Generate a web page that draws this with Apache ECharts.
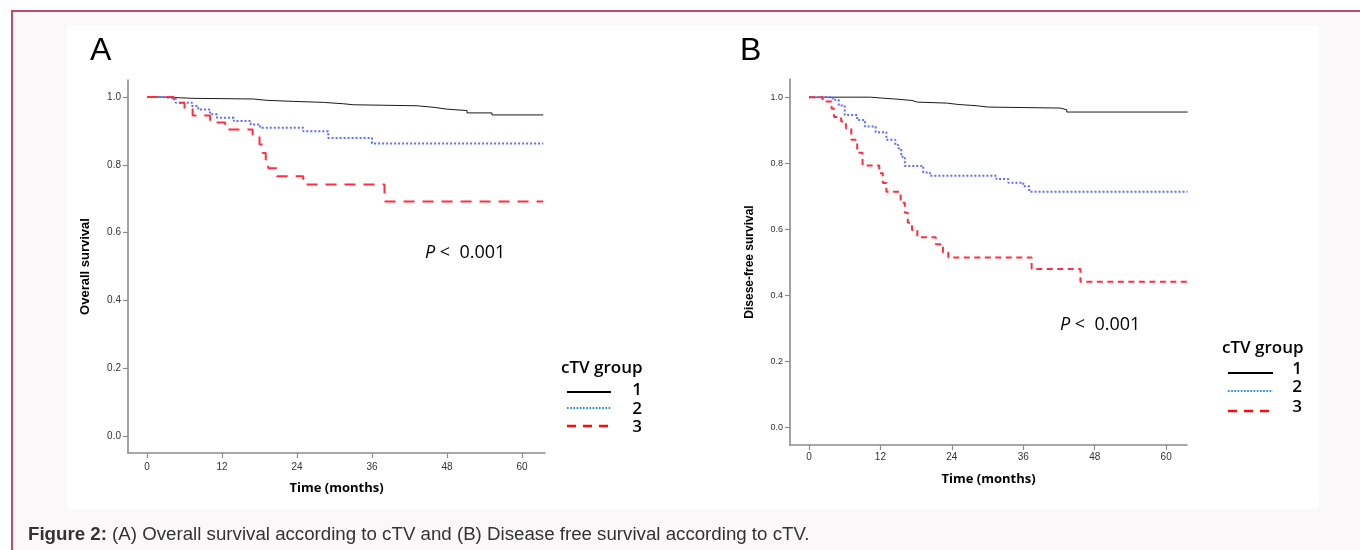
<!DOCTYPE html>
<html><head><meta charset="utf-8">
<script src="https://cdn.jsdelivr.net/npm/echarts@6/dist/echarts.min.js"></script>
<style>
html,body{margin:0;padding:0;background:#fff;width:1360px;height:550px;overflow:hidden}
#frame{position:absolute;left:11px;top:10px;width:1349px;height:540px;background:#faf8f9;border-top:2px solid #c24a6c;border-left:2px solid #c24a6c;box-sizing:border-box}
#panel{position:absolute;left:67px;top:26px;width:1252px;height:483px;background:#fff}
#chart{position:absolute;left:0;top:0;width:1360px;height:550px}
</style></head><body>
<div id="frame"></div><div id="panel"></div><div id="chart"></div>
<script>
// ---- tick labels ----
const xTicks = [0, 12, 24, 36, 48, 60];
const yTicks = [0, 0.2, 0.4, 0.6, 0.8, 1.0];
const groupNames = ['1', '2', '3'];

// ---- Panel A: Overall survival (months, survival proportion) ----
const osTime1 = [0, 2.1, 7.2, 17, 19.2, 23.4, 28.2, 31.4, 33, 43.2, 46.1, 48, 51.2, 55.2, 63.4];
const osSurv1 = [1, 0.996, 0.994, 0.99, 0.987, 0.984, 0.98, 0.977, 0.974, 0.969, 0.964, 0.96, 0.953, 0.947, 0.947];
const osTime2 = [0, 2.5, 4.6, 7.2, 8.2, 10.1, 11.2, 13.9, 16.6, 18.1, 25, 29, 36, 63.4];
const osSurv2 = [1, 0.995, 0.983, 0.973, 0.963, 0.949, 0.939, 0.929, 0.919, 0.909, 0.899, 0.879, 0.863, 0.863];
const osTime3 = [0, 4.3, 6.0, 7.3, 10.1, 12.5, 16.9, 18.0, 18.5, 19.0, 19.4, 20.8, 25.0, 38.0, 63.4];
const osSurv3 = [1, 0.983, 0.964, 0.945, 0.925, 0.904, 0.885, 0.86, 0.835, 0.81, 0.79, 0.766, 0.742, 0.692, 0.692];

// ---- Panel B: Disease-free survival ----
const dfsTime1 = [0, 10.3, 12.4, 14.8, 17.3, 18.2, 23.2, 25, 28.2, 30.1, 42.2, 43.3, 63.6];
const dfsSurv1 = [1, 0.997, 0.994, 0.99, 0.985, 0.982, 0.978, 0.974, 0.97, 0.967, 0.962, 0.955, 0.955];
const dfsTime2 = [0, 4.0, 5.0, 6.0, 8.1, 9.4, 11.2, 13.0, 14.5, 15.0, 15.5, 16.1, 19.2, 20.3, 31.5, 33.5, 36.0, 37.0, 63.6];
const dfsSurv2 = [1, 0.992, 0.975, 0.946, 0.931, 0.911, 0.894, 0.871, 0.855, 0.845, 0.82, 0.792, 0.772, 0.762, 0.752, 0.741, 0.73, 0.714, 0.714];
const dfsTime3 = [0, 2.3, 3.8, 4.2, 5.4, 6.2, 7.1, 8.1, 9.0, 11.8, 12.4, 13.0, 15.4, 16.1, 16.6, 17.3, 18.2, 21.3, 22.5, 23.4, 37.4, 45.6, 63.5];
const dfsSurv3 = [1, 0.987, 0.965, 0.94, 0.926, 0.906, 0.871, 0.832, 0.793, 0.77, 0.74, 0.714, 0.68, 0.65, 0.62, 0.598, 0.576, 0.555, 0.53, 0.515, 0.48, 0.441, 0.441];

const zip = (t, s) => t.map((v, i) => [v, s[i]]);

const chart = echarts.init(document.getElementById('chart'), null, {renderer: 'canvas'});
const AX = '#8c8c8c';
const tickFont = 'Liberation Sans';

function xAxis(gi, min, max, gap, margin, fs) {
  return {
    type: 'value', gridIndex: gi, min: min, max: max,
    name: 'Time (months)', nameLocation: 'middle', nameGap: gap,
    nameTextStyle: {fontFamily: 'Open Sans', fontWeight: 'bold', fontSize: 13, color: '#000'},
    axisLine: {show: true, onZero: false, lineStyle: {color: AX, width: 1.6}},
    axisTick: {show: true, length: 5, lineStyle: {color: AX, width: 1.2}, customValues: xTicks},
    axisLabel: {customValues: xTicks, margin: margin, fontFamily: tickFont, fontSize: fs, color: '#333'},
    splitLine: {show: false}
  };
}
function yAxis(gi, min, max, name, gap, fs, nfs) {
  return {
    type: 'value', gridIndex: gi, min: min, max: max,
    name: name, nameLocation: 'middle', nameGap: gap,
    nameTextStyle: {fontFamily: 'Liberation Sans', fontWeight: 'bold', fontSize: nfs, color: '#000'},
    axisLine: {show: true, onZero: false, lineStyle: {color: AX, width: 1.6}},
    axisTick: {show: true, length: 5, lineStyle: {color: AX, width: 1.2}, customValues: yTicks},
    axisLabel: {customValues: yTicks, margin: 7, fontFamily: tickFont, fontSize: fs, color: '#333',
      formatter: v => v.toFixed(1)},
    splitLine: {show: false}
  };
}

const BLACK = '#1a1a1a', BLUE = '#5e6cff', RED = '#ff2f3f';
function km(name, gi, data, color, width, dash) {
  return {
    name: name, type: 'line', step: 'end', xAxisIndex: gi, yAxisIndex: gi,
    data: data, showSymbol: false, symbol: 'none', silent: true, animation: false,
    lineStyle: {color: color, width: width, type: dash}
  };
}

function legendBlock(x0, x1, ys, labelX, labelYs, titleX, titleY) {
  const els = [{
    type: 'text', x: titleX, y: titleY,
    style: {text: 'cTV group', font: '600 17px "Open Sans"', fill: '#000', verticalAlign: 'middle'}
  }];
  const styles = [
    {stroke: '#000', lineWidth: 2},
    {stroke: '#1f8ae6', lineWidth: 2, lineDash: [1.6, 1.6]},
    {stroke: '#ff0a0a', lineWidth: 2.5, lineDash: [9, 7]}
  ];
  for (let i = 0; i < 3; i++) {
    els.push({type: 'line', shape: {x1: x0, y1: ys[i], x2: x1, y2: ys[i]}, style: styles[i]});
    els.push({type: 'text', x: labelX, y: labelYs[i],
      style: {text: groupNames[i], font: '600 17px "Open Sans"', fill: '#000', align: 'center', verticalAlign: 'middle'}});
  }
  return els;
}

function pText(x, y) {
  return {type: 'text', x: x, y: y, style: {
    text: '{p|P}{n| <  0.001}', verticalAlign: 'middle',
    rich: {p: {font: 'italic 18px "Open Sans"', fill: '#000'}, n: {font: '18px "Open Sans"', fill: '#000'}}
  }};
}

const option = {
  animation: false,
  grid: [
    {left: 128, width: 417, top: 80, height: 373},
    {left: 790, width: 397, top: 79, height: 366}
  ],
  xAxis: [xAxis(0, -3.04, 63.68, 29, 9, 10), xAxis(1, -3.19, 63.5, 28, 7, 10)],
  yAxis: [yAxis(0, -0.05, 1.05, 'Overall survival', 36, 10, 13), yAxis(1, -0.053, 1.055, 'Disese-free survival', 34, 9, 12)],
  series: [
    km(groupNames[0], 0, zip(osTime1, osSurv1), BLACK, 1, 'solid'),
    km(groupNames[1], 0, zip(osTime2, osSurv2), BLUE, 2, [2, 2]),
    km(groupNames[2], 0, zip(osTime3, osSurv3), RED, 2, [11, 8]),
    km(groupNames[0], 1, zip(dfsTime1, dfsSurv1), BLACK, 1, 'solid'),
    km(groupNames[1], 1, zip(dfsTime2, dfsSurv2), BLUE, 2, [2, 2]),
    km(groupNames[2], 1, zip(dfsTime3, dfsSurv3), RED, 2, [6, 4.5])
  ],
  graphic: [].concat(
    [{type: 'text', x: 90, y: 51, style: {text: 'A', font: '32px "Liberation Sans"', fill: '#000', verticalAlign: 'middle'}},
     {type: 'text', x: 740, y: 51, style: {text: 'B', font: '32px "Liberation Sans"', fill: '#000', verticalAlign: 'middle'}},
     pText(425, 253), pText(1060, 325)],
    legendBlock(567, 611, [392, 408, 426], 637, [390, 409, 427], 561, 368),
    legendBlock(1228, 1273, [373, 391, 411], 1297, [369, 387, 407], 1222, 348),
    [{type: 'text', x: 28, y: 535, style: {
      text: '{b|Figure 2:} (A) Overall survival according to cTV and (B) Disease free survival according to cTV.',
      font: '18.7px "Liberation Sans"', fill: '#333', verticalAlign: 'middle',
      rich: {b: {font: 'bold 18.7px "Liberation Sans"', fill: '#333'}}
    }}]
  )
};
chart.setOption(option);
</script>
</body></html>
